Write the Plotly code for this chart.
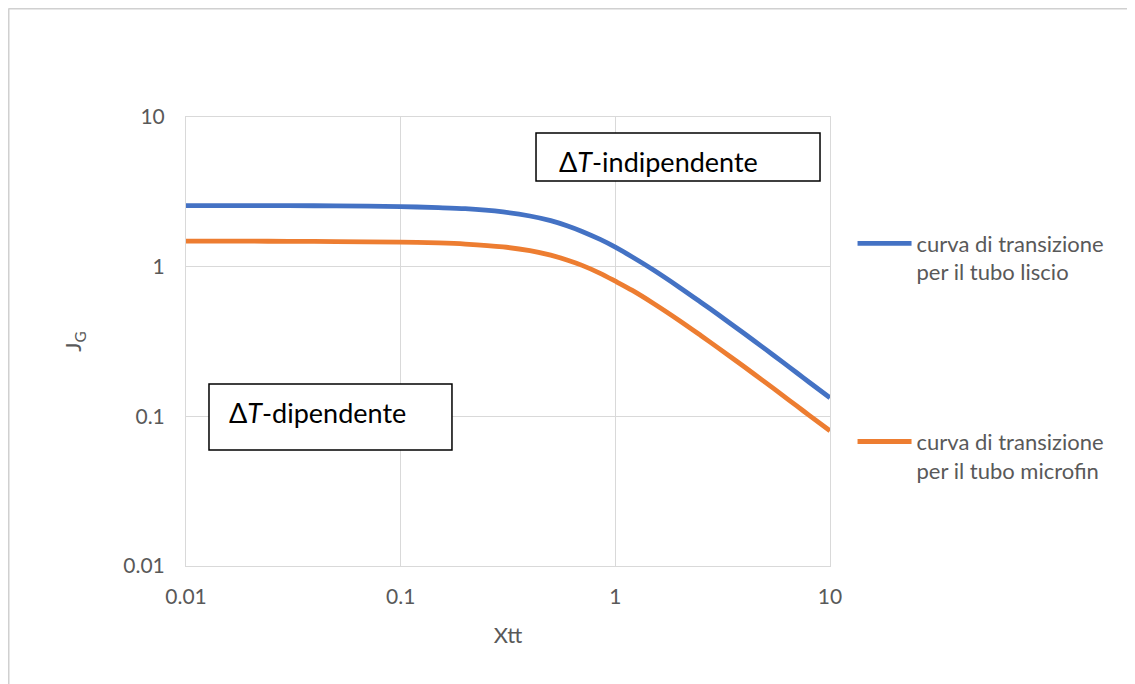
import plotly.graph_objects as go

# Data
xtt = [0.01, 0.02, 0.03, 0.05, 0.1, 0.15, 0.2, 0.3, 0.4, 0.5, 0.6, 0.7, 0.85, 1.0,
       1.2, 1.5, 2.0, 2.5, 3.0, 4.0, 5.0, 6.0, 7.0, 8.0, 10.0]
jg_liscio = [2.56, 2.56, 2.555, 2.55, 2.52, 2.48, 2.44, 2.32, 2.18, 2.03, 1.87, 1.72, 1.52, 1.35,
             1.16, 0.953, 0.724, 0.579, 0.481, 0.356, 0.281, 0.231, 0.1955, 0.169, 0.133]
jg_microfin = [1.48, 1.48, 1.477, 1.47, 1.458, 1.44, 1.416, 1.355, 1.278, 1.193, 1.104, 1.02, 0.903, 0.80,
               0.694, 0.570, 0.434, 0.347, 0.288, 0.2135, 0.1685, 0.1386, 0.1173, 0.1015, 0.080]

series_names = ["curva di transizione<br>per il tubo liscio",
                "curva di transizione<br>per il tubo microfin"]
tick_vals = [0.01, 0.1, 1, 10]
tick_text = ["0.01", "0.1", "1", "10"]

FONT = "Lato"
GREY = "#595959"
GRID = "#D9D9D9"

fig = go.Figure()
fig.add_trace(go.Scatter(x=xtt, y=jg_liscio, mode="lines", name=series_names[0],
                         line=dict(color="#4472C4", width=4.8, shape="spline", smoothing=0.8),
                         legendgroup="a"))
fig.add_trace(go.Scatter(x=xtt, y=jg_microfin, mode="lines", name=series_names[1],
                         line=dict(color="#ED7D31", width=4.8, shape="spline", smoothing=0.8),
                         legendgroup="b"))

axis_common = dict(type="log", showgrid=True, gridcolor=GRID, gridwidth=1,
                   showline=True, linecolor=GRID, linewidth=1, mirror=True,
                   tickvals=tick_vals, ticktext=tick_text, ticks="",
                   tickfont=dict(family=FONT, size=21, color=GREY),
                   zeroline=False)

fig.update_xaxes(range=[-2, 1], title=dict(text="Xtt", font=dict(family=FONT, size=22, color=GREY), standoff=20),
                 ticklabelstandoff=12, **axis_common)
fig.update_yaxes(range=[-2, 1], title=dict(text="J<sub>G</sub>", font=dict(family=FONT, size=22, color=GREY), standoff=35),
                 ticklabelstandoff=16, **axis_common)

shapes = [
    # outer chart border (top and left visible)
    dict(type="line", xref="paper", yref="paper", x0=-0.2756, x1=1.6, y0=1.2416, y1=1.2416,
         line=dict(color="#D0D0D0", width=2)),
    dict(type="line", xref="paper", yref="paper", x0=-0.2756, x1=-0.2756, y0=-0.4, y1=1.2416,
         line=dict(color="#D0D0D0", width=2)),
    # text boxes
    dict(type="rect", xref="paper", yref="paper", x0=0.5435, x1=0.9845, y0=0.8575, y1=0.9644,
         line=dict(color="black", width=1.5), fillcolor="white", layer="above"),
    dict(type="rect", xref="paper", yref="paper", x0=0.0357, x1=0.413, y0=0.2584, y1=0.4053,
         line=dict(color="black", width=1.5), fillcolor="white", layer="above"),
]

annotations = [
    dict(text="Δ<i>T</i>-indipendente", xref="paper", yref="paper", x=0.576, y=0.902,
         xanchor="left", yanchor="middle", showarrow=False,
         font=dict(family=FONT, size=27, color="black")),
    dict(text="Δ<i>T</i>-dipendente", xref="paper", yref="paper", x=0.064, y=0.3408,
         xanchor="left", yanchor="middle", showarrow=False,
         font=dict(family=FONT, size=27, color="black")),
]

fig.update_layout(
    width=1135, height=684,
    margin=dict(l=178, r=313, t=109, b=126, autoexpand=False),
    paper_bgcolor="white", plot_bgcolor="white",
    shapes=shapes, annotations=annotations,
    showlegend=True,
    legend=dict(x=1.035, xanchor="left", y=0.765, yanchor="top",
                font=dict(family=FONT, size=22, color=GREY),
                valign="top", traceorder="grouped", tracegroupgap=138,
                itemwidth=54, bgcolor="rgba(0,0,0,0)"),
)

fig.write_html("out.html")
